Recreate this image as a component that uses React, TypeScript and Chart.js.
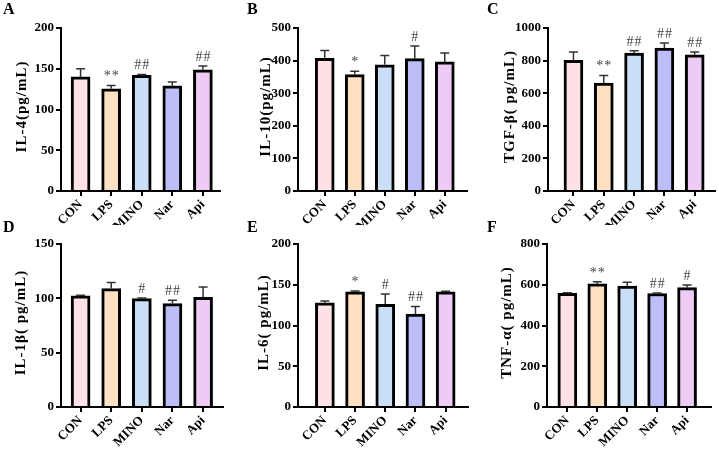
import React, { useEffect, useRef } from "react";
import { Chart, registerables } from "chart.js";

Chart.register(...registerables);

// ---- data ----
const categories = ["CON", "LPS", "MINO", "Nar", "Api"];
const barColors = ["#FFE1E6", "#FEE0C2", "#C9DFF7", "#BDBDF8", "#EDCBF4"];

const il4Mean = [140, 125.4, 141.8, 129, 148.8];
const il4Err = [10, 4.1, 1.2, 4.6, 4.5];
const il4Marks = ["", "**", "##", "", "##"];

const il10Mean = [407, 357, 387, 406, 396];
const il10Err = [24, 10, 29, 39, 27];
const il10Marks = ["", "*", "", "#", ""];

const tgfMean = [801, 662, 846, 877, 836];
const tgfErr = [51, 47, 15, 31, 16];
const tgfMarks = ["", "**", "##", "##", "##"];

const il1bMean = [102.2, 109, 99.8, 95.2, 101];
const il1bErr = [0.7, 5.5, 0.6, 3.1, 9.5];
const il1bMarks = ["", "", "#", "##", ""];

const il6Mean = [127.8, 141.2, 126, 114, 141.2];
const il6Err = [2.4, 1.2, 12.8, 9.4, 0.8];
const il6Marks = ["", "*", "#", "##", ""];

const tnfMean = [558, 604, 594, 557, 586];
const tnfErr = [3, 11, 18, 2, 13];
const tnfMarks = ["", "**", "", "##", "#"];

const yMax = [200, 500, 1000, 150, 200, 800];
const yStep = [50, 100, 200, 50, 50, 200];

const FONT = "'Liberation Serif', 'Times New Roman', serif";

type Panel = {
  letter: string;
  title: string;
  mean: number[];
  err: number[];
  marks: string[];
  max: number;
  step: number;
  // layout
  left: number;
  top: number;
  w: number;
  h: number;
  axisX: number;
  padRight: number;
  padTop: number;
  xH: number;
  xMin: number;
  xMax: number;
  titleX: number;
};

const panels: Panel[] = [
  { letter: "A", title: "IL-4(pg/mL)", mean: il4Mean, err: il4Err, marks: il4Marks, max: yMax[0], step: yStep[0],
    left: 0, top: 0, w: 240, h: 225, axisX: 61, padRight: 20, padTop: 28, xH: 34, xMin: -0.64, xMax: 4.56, titleX: 22 },
  { letter: "B", title: "IL-10(pg/mL)", mean: il10Mean, err: il10Err, marks: il10Marks, max: yMax[1], step: yStep[1],
    left: 240, top: 0, w: 240, h: 225, axisX: 58, padRight: 13, padTop: 28, xH: 34, xMin: -0.89, xMax: 4.74, titleX: 26 },
  { letter: "C", title: "TGF-β( pg/mL)", mean: tgfMean, err: tgfErr, marks: tgfMarks, max: yMax[2], step: yStep[2],
    left: 480, top: 0, w: 239, h: 225, axisX: 68, padRight: 4, padTop: 28, xH: 34, xMin: -0.84, xMax: 4.67, titleX: 30 },
  { letter: "D", title: "IL-1β( pg/mL)", mean: il1bMean, err: il1bErr, marks: il1bMarks, max: yMax[3], step: yStep[3],
    left: 0, top: 225, w: 240, h: 226, axisX: 61, padRight: 17, padTop: 19, xH: 44, xMin: -0.64, xMax: 4.65, titleX: 21 },
  { letter: "E", title: "IL-6( pg/mL)", mean: il6Mean, err: il6Err, marks: il6Marks, max: yMax[4], step: yStep[4],
    left: 240, top: 225, w: 240, h: 226, axisX: 58, padRight: 12, padTop: 19, xH: 44, xMin: -0.89, xMax: 4.74, titleX: 24 },
  { letter: "F", title: "TNF-α( pg/mL)", mean: tnfMean, err: tnfErr, marks: tnfMarks, max: yMax[5], step: yStep[5],
    left: 480, top: 225, w: 239, h: 226, axisX: 67, padRight: 8, padTop: 19, xH: 44, xMin: -0.68, xMax: 4.8, titleX: 27 },
];

function PanelChart({ p }: { p: Panel }) {
  const ref = useRef<HTMLCanvasElement | null>(null);
  useEffect(() => {
    if (!ref.current) return;
    const extras = {
      id: "extras",
      afterDatasetsDraw(chart: any) {
        const ctx = chart.ctx;
        const ys = chart.scales.y;
        const meta = chart.getDatasetMeta(0);
        ctx.save();
        p.mean.forEach((v, i) => {
          const bar = meta.data[i];
          const x = bar.x;
          const yv = ys.getPixelForValue(v);
          const yt = ys.getPixelForValue(v + p.err[i]);
          ctx.strokeStyle = "#333";
          ctx.lineWidth = 1.5;
          ctx.beginPath();
          ctx.moveTo(x, yv);
          ctx.lineTo(x, yt);
          ctx.moveTo(x - 4.5, yt);
          ctx.lineTo(x + 4.5, yt);
          ctx.stroke();
          if (p.marks[i]) {
            ctx.fillStyle = "#444";
            ctx.font = `14px ${FONT}`;
            ctx.textAlign = "center";
            ctx.textBaseline = "alphabetic";
            (ctx as any).letterSpacing = "1px";
            ctx.fillText(p.marks[i], x + 0.5, yt - 5);
            (ctx as any).letterSpacing = "0px";
          }
        });
        // y-axis title
        const ca = chart.chartArea;
        ctx.save();
        ctx.translate(p.titleX, (ca.top + ca.bottom) / 2 - 3);
        ctx.rotate(-Math.PI / 2);
        ctx.font = `bold 15px ${FONT}`;
        (ctx as any).letterSpacing = "1px";
        ctx.fillStyle = "#000";
        ctx.textAlign = "center";
        ctx.textBaseline = "middle";
        ctx.fillText(p.title, 0, 0);
        ctx.restore();
        ctx.restore();
      },
    };
    const tickFont = { family: FONT, size: 13, weight: "bold" as const };
    const chart = new Chart(ref.current, {
      type: "bar",
      data: {
        datasets: [
          {
            data: p.mean.map((v, i) => ({ x: i, y: v })),
            backgroundColor: barColors,
            borderColor: "#000",
            borderWidth: 3,
            borderSkipped: "start",
            barThickness: 19,
          } as any,
        ],
      },
      options: {
        animation: false,
        responsive: false,
        events: [],
        layout: { padding: { left: 0, right: p.padRight, top: p.padTop, bottom: 0 } },
        plugins: { legend: { display: false }, tooltip: { enabled: false }, title: { display: false } },
        scales: {
          x: {
            type: "linear",
            min: p.xMin,
            max: p.xMax,
            offset: false,
            afterBuildTicks: (s: any) => {
              s.ticks = categories.map((_, i) => ({ value: i }));
            },
            afterFit: (s: any) => {
              s.height = p.xH;
            },
            ticks: {
              autoSkip: false,
              maxRotation: 45,
              minRotation: 45,
              padding: 1,
              color: "#000",
              font: tickFont,
              callback: (v: any) => categories[Math.round(Number(v))] ?? "",
            },
            grid: { display: true, offset: false, drawOnChartArea: false, drawTicks: true, tickLength: 5, color: "#000", lineWidth: 2 },
            border: { display: true, color: "#000", width: 2 },
          } as any,
          y: {
            min: 0,
            max: p.max,
            afterFit: (s: any) => {
              s.width = p.axisX;
            },
            ticks: { stepSize: p.step, padding: 2, color: "#000", font: tickFont, callback: (v: any) => String(v) },
            grid: { display: true, drawOnChartArea: false, drawTicks: true, tickLength: 5, color: "#000", lineWidth: 2 },
            border: { display: true, color: "#000", width: 2 },
          },
        },
      },
      plugins: [extras],
    });
    return () => chart.destroy();
  }, [p]);
  return (
    <div style={{ position: "absolute", left: p.left, top: p.top, width: p.w, height: p.h }}>
      <canvas ref={ref} width={p.w} height={p.h} style={{ display: "block" }} />
      <div
        style={{
          position: "absolute",
          left: p.letter === "A" || p.letter === "D" ? 3 : 7,
          top: p.top === 0 ? 1 : -6,
          fontFamily: FONT,
          fontWeight: "bold",
          fontSize: 16,
          lineHeight: "16px",
          color: "#000",
        }}
      >
        {p.letter}
      </div>
    </div>
  );
}

export default function App() {
  return (
    <div style={{ position: "absolute", left: 0, top: 0, width: 719, height: 451, background: "#fff", overflow: "hidden" }}>
      {panels.map((p) => (
        <PanelChart key={p.letter} p={p} />
      ))}
    </div>
  );
}
